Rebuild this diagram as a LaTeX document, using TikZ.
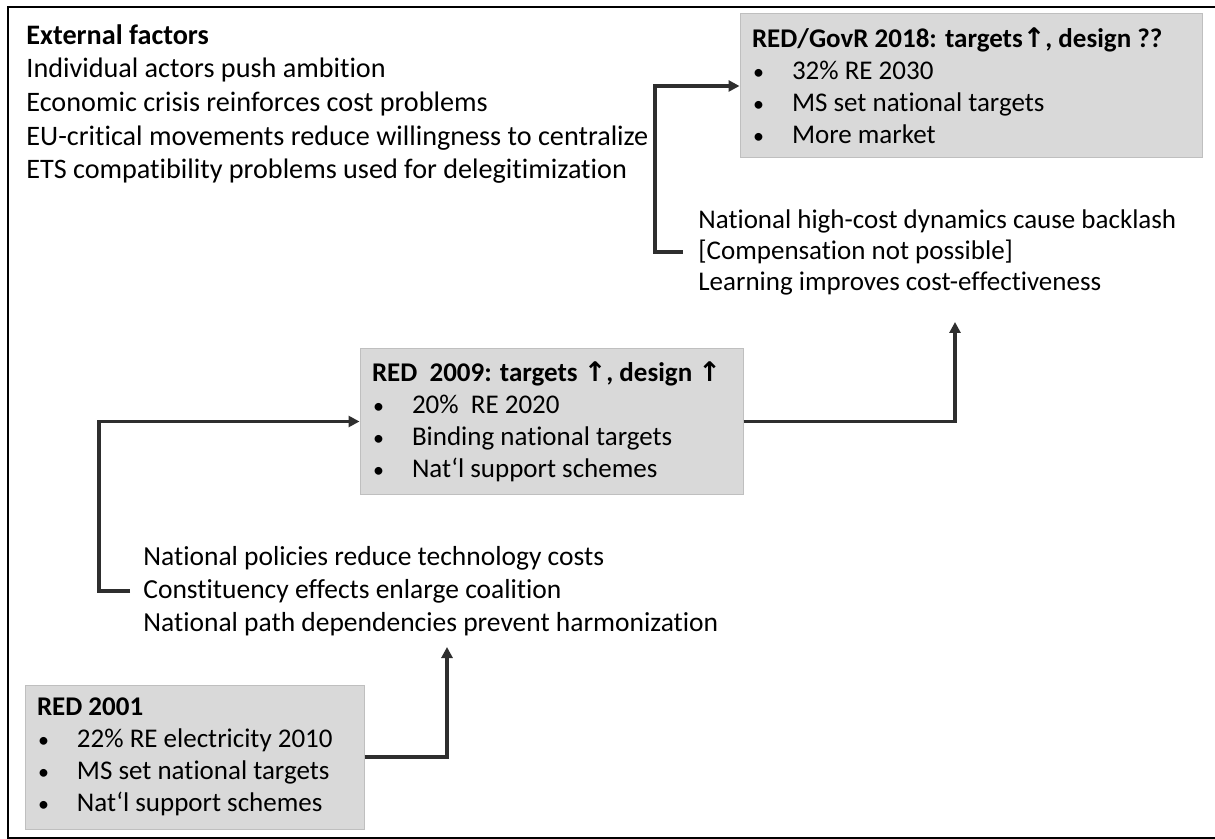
\documentclass[tikz,border=0pt]{standalone}
\usepackage{fontspec}
\setmainfont{Carlito}[Ligatures=NoCommon]
\newfontfamily\arrowfont{DejaVu Sans}
\usetikzlibrary{arrows.meta,positioning}

\definecolor{boxfill}{HTML}{D9D9D9}
\definecolor{boxline}{HTML}{BFBFBF}
\definecolor{linkgray}{HTML}{2E2E2E}
\newcommand{\itm}{\makebox[20pt][l]{\hspace{0.6pt}\fontsize{11}{11}\selectfont\textbullet}}
\newcommand{\uparr}{{\arrowfont\bfseries ↑}}

\begin{document}
\begin{tikzpicture}[x=0.5pt,y=-0.5pt,
  redbox/.style={draw=boxline,fill=boxfill,line width=0.5pt,inner xsep=6pt,inner ysep=0pt,
    align=flush left,font=\fontsize{13.5}{16}\selectfont},
  factors/.style={inner sep=0pt,align=flush left,anchor=west},
  link/.style={draw=linkgray,line width=1.9pt},
  linkarrow/.style={link,-{Triangle[length=5.5pt,width=5.5pt]}}]
% bends of the brackets are relative to the text blocks
% the two upward arrows end below the text blocks

\useasboundingbox (0,0) rectangle (1215,839);
\draw[line width=1.2pt] (8,7) rectangle (1240,838);

\node[factors,font=\fontsize{14.1}{16.8}\selectfont] (ext) at (26,104) {\textbf{External factors}\\
  Individual actors push ambition\\
  Economic crisis reinforces cost problems\\
  EU-critical movements reduce willingness to centralize\\
  ETS compatibility problems used for delegitimization};

\node[redbox,text width=219pt,minimum height=72pt] (red18) at (971,86) {\mbox{\textbf{RED/GovR 2018: targets\uparr, design ??}}\\
  \itm 32\% RE 2030\\
  \itm MS set national targets\\
  \itm More market};

\node[factors,font=\fontsize{13.5}{15.5}\selectfont] (mech09) at (698,252) {National high-cost dynamics cause backlash\\
  {[}Compensation not possible{]}\\
  Learning improves cost-effectiveness};

\node[redbox,text width=179.5pt,minimum height=72.5pt] (red09) at (551.5,421.5) {\mbox{\textbf{RED\ \ 2009: targets \uparr, design \uparr}}\\
  \itm 20\%\ \ RE 2020\\
  \itm Binding national targets\\
  \itm Nat‘l support schemes};

\node[factors,font=\fontsize{13.75}{16.5}\selectfont] (mech01) at (143,591) {National policies reduce technology costs\\
  Constituency effects enlarge coalition\\
  National path dependencies prevent harmonization};

\node[redbox,text width=157.5pt,minimum height=72pt] (red01) at (194.5,757) {\textbf{RED 2001}\\
  \itm 22\% RE electricity 2010\\
  \itm MS set national targets\\
  \itm Nat‘l support schemes};

\coordinate (tip01) at (447,647);
\coordinate (tip09) at (955,322);

\draw[linkarrow] (red01.east) -| (tip01);
\draw[linkarrow] ([xshift=-6.5pt]mech01.west) -- ++(-31,0) |- (red09.west);
\draw[linkarrow] (red09.east) -| (tip09);
\draw[linkarrow] ([xshift=-7.5pt]mech09.west) -- ++(-28,0) |- (red18.west);
\end{tikzpicture}
\end{document}
